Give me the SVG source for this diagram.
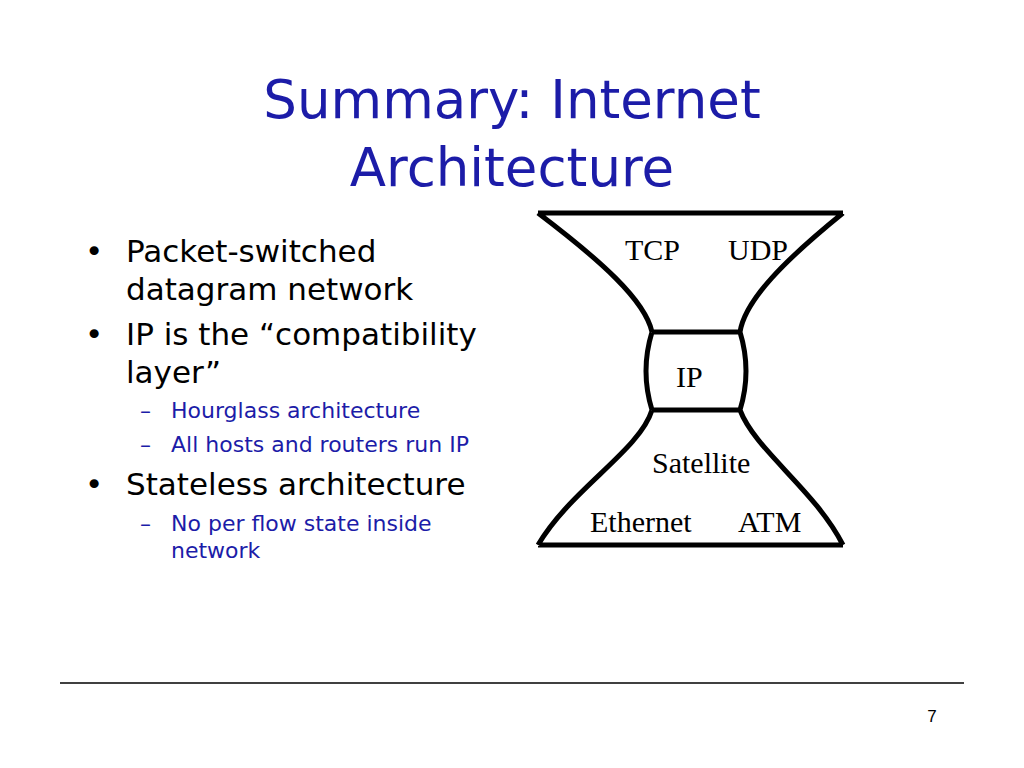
<svg xmlns="http://www.w3.org/2000/svg" width="1024" height="768" viewBox="0 0 1024 768">
<style>
.t{font-family:"DejaVu Sans",sans-serif;fill:#1c1ca8}
.b{font-family:"DejaVu Sans",sans-serif;fill:#000;font-size:31px}
.s{font-family:"DejaVu Sans",sans-serif;fill:#1c1ca8;font-size:22px}
.r{font-family:"Liberation Serif",serif;fill:#000;font-size:30px}
.h{fill:none;stroke:#000;stroke-width:5}
</style>
<rect width="1024" height="768" fill="#fff"/>
<text class="t" font-size="53" x="512" y="118" text-anchor="middle">Summary: Internet</text>
<text class="t" font-size="53" x="512" y="186" text-anchor="middle">Architecture</text>
<g id="bullets">
<text class="b" x="85" y="262">•</text>
<text class="b" x="126" y="262">Packet-switched</text>
<text class="b" x="126" y="300">datagram network</text>
<text class="b" x="85" y="345">•</text>
<text class="b" x="126" y="345">IP is the “compatibility</text>
<text class="b" x="126" y="383">layer”</text>
<text class="s" x="140" y="418">–</text>
<text class="s" x="171" y="418">Hourglass architecture</text>
<text class="s" x="140" y="452">–</text>
<text class="s" x="171" y="452">All hosts and routers run IP</text>
<text class="b" x="85" y="495">•</text>
<text class="b" x="126" y="495">Stateless architecture</text>
<text class="s" x="140" y="531">–</text>
<text class="s" x="171" y="531">No per flow state inside</text>
<text class="s" x="171" y="558">network</text>
</g>
<g id="hourglass">
<path class="h" d="M538 213 H843 M538 213 C600 260 645 300 652 332 M843 213 C785 260 745 300 740 332 M652 332 H740 M652 332 Q640 371 652 410 M740 332 Q752 371 740 410 M652 410 H740 M652 410 C640 450 570 490 538 545 M740 410 C755 450 815 490 843 545 M538 545 H843"/>
<text class="r" x="625" y="260">TCP</text>
<text class="r" x="728" y="260">UDP</text>
<text class="r" x="676" y="387">IP</text>
<text class="r" x="652" y="473">Satellite</text>
<text class="r" x="590" y="532">Ethernet</text>
<text class="r" x="738" y="532">ATM</text>
</g>
<line x1="60" y1="683" x2="964" y2="683" stroke="#000" stroke-width="1.5"/>
<text x="932" y="722" font-family="Liberation Sans,sans-serif" font-size="17" text-anchor="middle">7</text>
</svg>
